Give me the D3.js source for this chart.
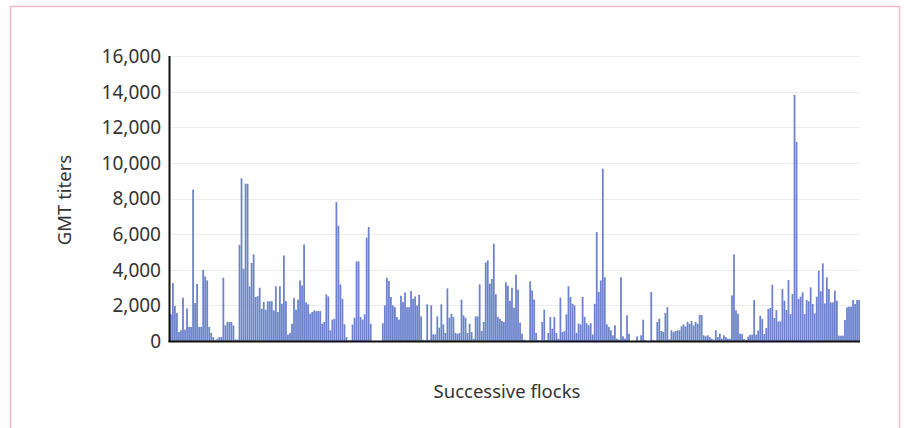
<!DOCTYPE html>
<html>
<head>
<meta charset="utf-8">
<script src="https://cdn.jsdelivr.net/npm/d3@7"></script>
<style>
  body { margin: 0; background: #fff; }
  svg { display: block; font-family: "Noto Sans", "Open Sans", sans-serif; }
  .grid line { stroke: #ececec; stroke-width: 1; }
  .tick-label { font-size: 19px; fill: #333; }
  .title { font-size: 18.5px; fill: #333; }
</style>
</head>
<body>
<svg id="chart" width="911" height="428"></svg>
<script>
// GMT titers per flock, read left to right off the picture
const titers = [
  1500, 3250, 1960, 1570, 500, 600, 2430, 640, 1830, 790, 790, 8500, 2130, 3200, 790, 790,
  4000, 3630, 3400, 790, 450, 220, 50, 130, 220, 220, 3550, 880, 1070, 1070, 1070, 880,
  80, 80, 5400, 9130, 4060, 8830, 8830, 3070, 4380, 4860, 2470, 2520, 2990, 1810, 2190,
  1760, 2230, 2230, 2230, 1720, 3070,
  1630, 3070, 2090, 4800, 2240, 360, 450, 970, 2410, 1760, 2320, 3400, 3120, 5420, 2170,
  2060, 1530, 1630, 1720, 1680, 1680, 1680, 970, 1070, 2620, 2500, 600, 1200, 1250, 7800,
  6470, 3180, 2360, 935, 220, 40, 40, 920, 1310, 4470, 4470, 1350, 1200, 1500, 5800, 6400,
  970, 0, 0, 0, 0, 0, 1000, 2000, 3550, 3370, 2470, 2000, 1900,
  1350, 1200, 2540, 2190, 2730, 1900, 1900, 2800, 2370, 2500, 2000, 2600, 1380, 75, 40,
  2060, 60, 2000, 370, 370, 1380, 750, 2060, 935, 450, 2950, 1310, 1530, 1350, 450, 410,
  450, 2320, 1440, 1310, 450, 970, 500, 130, 1380, 1380, 3180, 560, 1070, 4410, 4530, 3220,
  3480, 5460, 2620, 1350, 1250, 1120, 1070, 3300, 3100, 2250,
  2990, 1870, 3720, 2880, 1030, 410, 75, 30, 30, 3350, 2840, 2320, 450, 60, 30, 1070, 1760,
  60, 450, 1350, 690, 1350, 450, 130, 2430, 500, 560, 1500, 3070, 2470, 2090, 2000, 450,
  970, 935, 2470, 1350, 1000, 880, 1000, 370, 2090, 6110, 2750, 3400, 9670, 3580, 935, 790,
  600, 320, 880, 130, 75, 3580, 260, 130,
  1440, 410, 0, 0, 0, 260, 0, 320, 1200, 60, 0, 0, 2750, 60, 0, 1070, 1250, 560, 500, 1570,
  1900, 100, 600, 500, 560, 600, 600, 820, 935, 820, 1070, 970, 1120, 880, 1070, 970, 1460,
  1460, 320, 260, 320, 220, 130, 75, 600, 220, 410, 130, 320, 220, 130, 130, 2560, 4860,
  1720, 1530, 410,
  390, 110, 60, 240, 355, 355, 2300, 355, 580, 1420, 1230, 390, 730, 1800, 1850, 3160, 1290,
  1740, 1100, 1100, 2920, 2260, 1740, 3420, 1510, 2640, 13820, 11180, 2360, 2490, 2730, 1510,
  2300, 2230, 3010, 2080, 1550, 2490, 3950, 2790, 4360, 2110, 3570, 2920, 2170, 2170, 2820,
  2260, 300, 300, 300, 1180, 1890, 1930, 1930, 2300, 2080, 2300, 2300
];
const yTicks = [0, 2000, 4000, 6000, 8000, 10000, 12000, 14000, 16000];

const svg = d3.select("#chart");
const plotLeft = 170, plotRight = 860, plotTop = 56, plotBottom = 341;

// pink frame round the figure
svg.append("rect")
  .attr("x", 10.5).attr("y", 6.5)
  .attr("width", 889).attr("height", 440)
  .attr("fill", "none")
  .attr("stroke", "#f3bcc1")
  .attr("stroke-width", 1.5);

const x = d3.scaleBand()
  .domain(d3.range(titers.length))
  .range([plotLeft, plotRight])
  .paddingInner(0.12);

const y = d3.scaleLinear()
  .domain([0, 16000])
  .range([plotBottom, plotTop]);

// gridlines
svg.append("g")
  .attr("class", "grid")
  .selectAll("line")
  .data(yTicks.slice(1))
  .join("line")
  .attr("x1", plotLeft)
  .attr("x2", plotRight)
  .attr("y1", d => Math.round(y(d)) + 0.5)
  .attr("y2", d => Math.round(y(d)) + 0.5);

// bars
svg.append("g")
  .selectAll("rect")
  .data(titers)
  .join("rect")
  .attr("x", (d, i) => x(i))
  .attr("y", d => y(d))
  .attr("width", x.bandwidth())
  .attr("height", d => plotBottom - y(d))
  .attr("fill", "#6c82cd");

// y axis, labels only
const yAxis = d3.axisLeft(y)
  .tickValues(yTicks)
  .tickFormat(d3.format(","))
  .tickSize(0)
  .tickPadding(9);

const yg = svg.append("g")
  .attr("transform", `translate(${plotLeft},0)`)
  .call(yAxis);
yg.select(".domain").remove();
yg.attr("font-family", null).attr("font-size", null);
yg.selectAll("text")
  .attr("class", "tick-label")
  .attr("fill", null)
  .attr("dy", "0.34em");

// axis lines
svg.append("line")
  .attr("x1", plotLeft - 0.5).attr("x2", plotLeft - 0.5)
  .attr("y1", plotTop).attr("y2", plotBottom + 1)
  .attr("stroke", "#111").attr("stroke-width", 2);
svg.append("line")
  .attr("x1", plotLeft - 1.5).attr("x2", plotRight)
  .attr("y1", plotBottom + 0.5).attr("y2", plotBottom + 0.5)
  .attr("stroke", "#111").attr("stroke-width", 2);

// titles
svg.append("text")
  .attr("class", "title")
  .attr("transform", "translate(71,200) rotate(-90)")
  .attr("text-anchor", "middle")
  .text("GMT titers");

svg.append("text")
  .attr("class", "title")
  .attr("x", 507)
  .attr("y", 398)
  .attr("text-anchor", "middle")
  .text("Successive flocks");
</script>
</body>
</html>
